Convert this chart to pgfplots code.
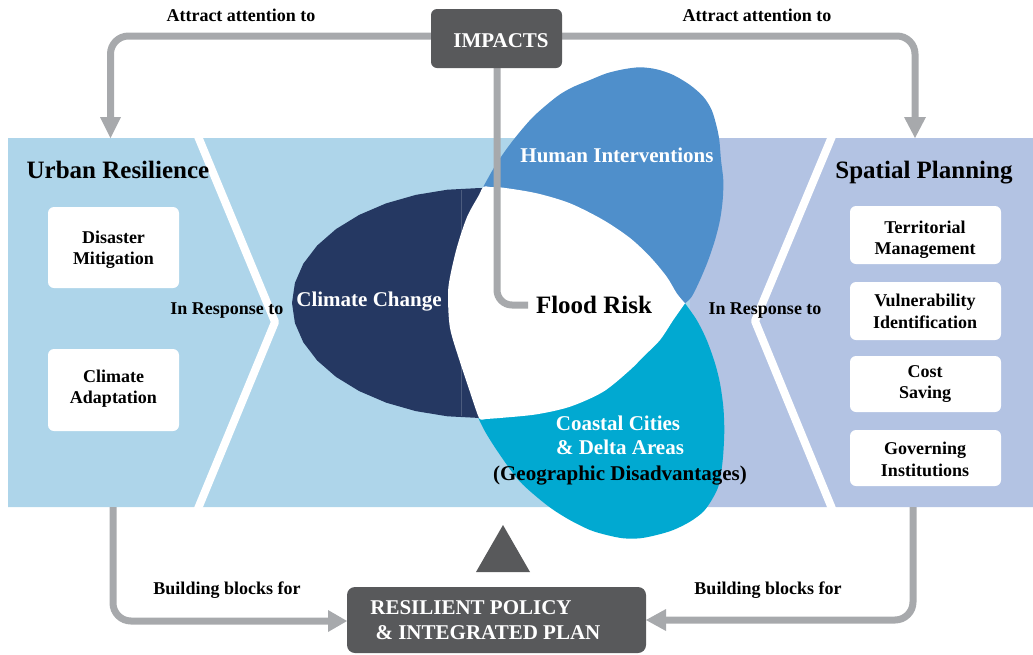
\documentclass[border=0pt]{standalone}
\usepackage{pgfplots}
\pgfplotsset{compat=1.18}
\usepackage{fontspec}
\setmainfont{Liberation Serif}

\definecolor{lblue}{HTML}{AED5EA}
\definecolor{lav}{HTML}{B3C3E3}
\definecolor{navy}{HTML}{253862}
\definecolor{hblue}{HTML}{4F8FCB}
\definecolor{cblue}{HTML}{01A9D1}
\definecolor{lgray}{HTML}{A7A9AC}
\definecolor{dgray}{HTML}{58595B}

\newcommand{\fa}{\fontsize{18pt}{21pt}\selectfont\bfseries}
\newcommand{\fb}{\fontsize{21pt}{24pt}\selectfont\bfseries}
\newcommand{\fc}{\fontsize{25pt}{28pt}\selectfont\bfseries}

\begin{document}
\begin{tikzpicture}
\begin{axis}[scale only axis, width=1033pt, height=654pt,
  xmin=0, xmax=1033, ymin=0, ymax=654, y dir=reverse, hide axis,
  every node/.style={inner sep=0pt, outer sep=0pt}]

% background band
\addplot[fill=lblue, draw=none] coordinates {(8,138) (690,138) (690,507) (8,507) (8,138)};
\addplot[fill=lav, draw=none] coordinates {(690,138) (1033,138) (1033,507) (690,507) (690,138)};

% chevron stripes
\addplot[white, line width=8pt, line join=round] coordinates {(197,134) (275,322) (197,511)};
\addplot[white, line width=8pt, line join=round] coordinates {(833,134) (755,321) (833,511)};

% Human interventions petal
\addplot[fill=hblue, draw=none, smooth, tension=0.5] coordinates {
 (685,303.3) (691.7,296.7) (700,280) (708.3,260) (715,240) (720,220) (722.7,200)
 (723.3,180) (721,160) (719.3,140) (716.7,126.7) (711.7,110) (703.3,96.7) (690,85)
 (673.3,75) (656.7,69.3) (640,67.3) (623.3,69.3) (606.7,73.3) (590,80) (572,87.5)
 (556.7,96.7) (533.3,116.7) (513.3,140) (496.7,163.3) (483.3,186.7) (467,217) (457,247)
 (560,265) (685,303.3)};

% Coastal petal
\addplot[fill=cblue, draw=none, smooth, tension=0.5] coordinates {
 (685,303.3) (696.7,320) (706.7,340) (715,363.3) (720,383.3) (723.3,406.7) (724.3,430)
 (723.3,453.3) (721.5,470) (718.3,486.7) (711.7,500) (703.3,511.7) (690,521.7) (673.3,530)
 (656.7,535) (640,538.3) (623.3,538.3) (606.7,535) (590,530) (568,519) (546.7,505)
 (520,481.7) (499.7,454.5) (483.3,428.3) (470,398) (460,366)
 (560,345) (685,303.3)};

% Climate change ellipse (left half)
\addplot[fill=navy, draw=none] coordinates {
 (480,188) (447.4,189.7) (415.7,194.9) (386,203.4) (359.2,214.9) (336.0,229.1)
 (317.2,245.5) (303.3,263.7) (294.9,283.0) (292,303) (294.9,323.0) (303.3,342.3)
 (317.2,360.5) (336.0,376.9) (359.2,391.1) (386,402.6) (415.7,411.1) (447.4,416.3)
 (480,418) (484,418) (484,188) (480,188)};
\addplot[color=navy!82!white, line width=0.6pt] coordinates {(461.5,190) (461.5,416)};

% white flood-risk region
\addplot[fill=white, draw=none, smooth, tension=0.5] coordinates {
 (685,303.3) (676.7,293.3) (666.7,276.7) (650,256.7) (630,238) (603.3,220) (570,203.3)
 (536.7,193.3) (503.3,187.7) (490,187) (483.3,186.7) (479,195) (467,217) (457,247)
 (450,277) (448,295) (450,328) (460,362) (470,392) (476,410) (480,419.3) (486,419)
 (503.3,417.7) (536.7,414.3) (570,406.7) (603.3,391.7) (630,370) (643.3,356.7)
 (660,340) (673.3,320) (685,303.3)};

% gray connectors
\addplot[lgray, line width=7pt, rounded corners=18pt] coordinates {(431,36) (110.5,36) (110.5,120)};
\addplot[fill=lgray, draw=none] coordinates {(100,117) (121,117) (110.5,138) (100,117)};
\addplot[lgray, line width=7pt, rounded corners=18pt] coordinates {(562,36) (915,36) (915,120)};
\addplot[fill=lgray, draw=none] coordinates {(904,117) (926,117) (915,138) (904,117)};
\addplot[lgray, line width=7pt, rounded corners=15pt] coordinates {(497,68) (497,305) (528,305)};
\addplot[lgray, line width=7pt, rounded corners=18pt] coordinates {(113,507) (113,621) (331,621)};
\addplot[fill=lgray, draw=none] coordinates {(328,610) (328,632) (347,621) (328,610)};
\addplot[lgray, line width=7pt, rounded corners=18pt] coordinates {(913,507) (913,620) (663,620)};
\addplot[fill=lgray, draw=none] coordinates {(666,609) (666,631) (646,620) (666,609)};

% dark boxes
\addplot[fill=dgray, draw=none, rounded corners=6pt] coordinates {(496,9) (562,9) (562,68) (431,68) (431,9) (496,9)};
\addplot[fill=dgray, draw=none, rounded corners=8pt] coordinates {(496,587) (646,587) (646,653) (347,653) (347,587) (496,587)};
\addplot[fill=dgray, draw=none] coordinates {(476,572) (530,572) (503,525) (476,572)};

% white boxes
\addplot[fill=white, draw=none, rounded corners=6pt] coordinates {(113,207) (179,207) (179,288) (48,288) (48,207) (113,207)};
\addplot[fill=white, draw=none, rounded corners=6pt] coordinates {(113,349) (179,349) (179,431) (48,431) (48,349) (113,349)};
\addplot[fill=white, draw=none, rounded corners=6pt] coordinates {(925,206) (1001,206) (1001,264) (850,264) (850,206) (925,206)};
\addplot[fill=white, draw=none, rounded corners=6pt] coordinates {(925,282) (1001,282) (1001,340) (850,340) (850,282) (925,282)};
\addplot[fill=white, draw=none, rounded corners=6pt] coordinates {(925,356) (1001,356) (1001,412) (850,412) (850,356) (925,356)};
\addplot[fill=white, draw=none, rounded corners=6pt] coordinates {(925,430) (1001,430) (1001,486) (850,486) (850,430) (925,430)};

% texts
\node[anchor=base, font=\fa] at (axis cs:241,21) {Attract attention to};
\node[anchor=base, font=\fa] at (axis cs:757,21) {Attract attention to};
\node[anchor=base, font=\fb, text=white] at (axis cs:501,47) {IMPACTS};
\node[anchor=base, font=\fc] at (axis cs:118,178) {Urban Resilience};
\node[anchor=base, font=\fc] at (axis cs:924,178) {Spatial Planning};

\node[anchor=base, font=\fa] at (axis cs:113.5,243) {Disaster};
\node[anchor=base, font=\fa] at (axis cs:113.5,264) {Mitigation};
\node[anchor=base, font=\fa] at (axis cs:113.5,382) {Climate};
\node[anchor=base, font=\fa] at (axis cs:113.5,403) {Adaptation};

\node[anchor=base, font=\fa] at (axis cs:925,233) {Territorial};
\node[anchor=base, font=\fa] at (axis cs:925,254) {Management};
\node[anchor=base, font=\fa] at (axis cs:925,306) {Vulnerability};
\node[anchor=base, font=\fa] at (axis cs:925,328) {Identification};
\node[anchor=base, font=\fa] at (axis cs:925,377) {Cost};
\node[anchor=base, font=\fa] at (axis cs:925,398) {Saving};
\node[anchor=base, font=\fa] at (axis cs:925,454) {Governing};
\node[anchor=base, font=\fa] at (axis cs:925,476) {Institutions};

\node[anchor=base, font=\fa] at (axis cs:227,314) {In Response to};
\node[anchor=base, font=\fa] at (axis cs:765,314) {In Response to};

\node[anchor=base, font=\fb, text=white] at (axis cs:369,306) {Climate Change};
\node[anchor=base, font=\fb, text=white] at (axis cs:617,162) {Human Interventions};
\node[anchor=base, font=\fc] at (axis cs:594,313) {Flood Risk};
\node[anchor=base, font=\fb, text=white] at (axis cs:618,430) {Coastal Cities};
\node[anchor=base, font=\fb, text=white] at (axis cs:620,454) {\& Delta Areas};
\node[anchor=base, font=\fb] at (axis cs:620,480) {(Geographic Disadvantages)};

\node[anchor=base, font=\fa] at (axis cs:227,594) {Building blocks for};
\node[anchor=base, font=\fa] at (axis cs:768,594) {Building blocks for};
\node[anchor=base, font=\fb, text=white] at (axis cs:471,614) {RESILIENT POLICY};
\node[anchor=base, font=\fb, text=white] at (axis cs:488,639) {\& INTEGRATED PLAN};

\coordinate (SW) at (axis cs:0,654);
\coordinate (NE) at (axis cs:1033,0);
\end{axis}
\pgfresetboundingbox
\path (SW) rectangle (NE);
\end{tikzpicture}
\end{document}
